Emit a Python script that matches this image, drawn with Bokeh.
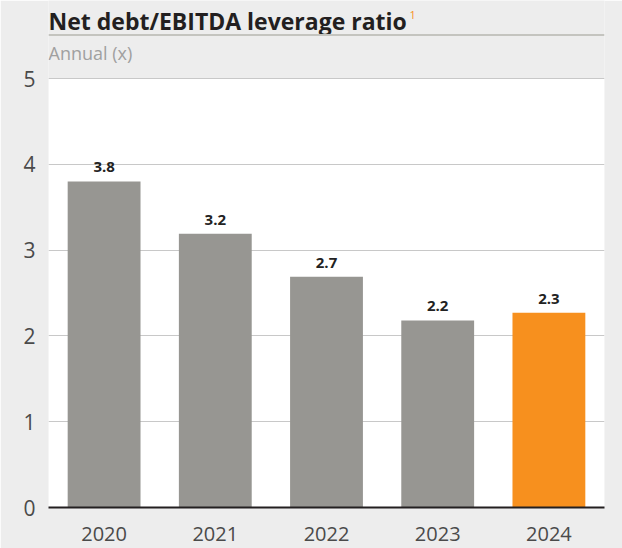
from bokeh.plotting import figure
from bokeh.models import (ColumnDataSource, FactorRange, Range1d, FixedTicker,
                          BoxAnnotation)
from bokeh.core.properties import value
from bokeh.embed import file_html
from bokeh.resources import INLINE

# ---- data ----
years = ["2020", "2021", "2022", "2023", "2024"]
ratios = [3.80, 3.19, 2.69, 2.18, 2.27]
ratio_labels = ["3.8", "3.2", "2.7", "2.2", "2.3"]
bar_colors = ["#979692", "#979692", "#979692", "#979692", "#F7901E"]
y_ticks = [0, 1, 2, 3, 4, 5]

title_text = "Net debt/EBITDA leverage ratio"
subtitle_text = "Annual (x)"

# ---- layout constants (pixels) ----
W, H = 622, 548
FRAME_TOP, FRAME_BOTTOM = 0, 507          # frame spans fig y 0..507
Y5_PX = 78                                 # pixel row of value 5
PX_PER_UNIT = (FRAME_BOTTOM - Y5_PX) / 5.0
Y_END = FRAME_BOTTOM / PX_PER_UNIT

def y_at(px):
    return (FRAME_BOTTOM - px) / PX_PER_UNIT

BG = "#EDEDED"
FONT = "Open Sans"

src = ColumnDataSource(dict(years=years, ratios=ratios,
                            labels=ratio_labels, colors=bar_colors))

p = figure(width=W, height=H, output_backend="svg", toolbar_location=None,
           x_range=FactorRange(*years, range_padding=0),
           y_range=Range1d(0, Y_END),
           min_border_left=48, min_border_right=18,
           min_border_top=FRAME_TOP, min_border_bottom=H - FRAME_BOTTOM)

p.background_fill_color = BG
p.border_fill_color = BG
p.outline_line_color = None

# white plot area from 0 to 5
p.add_layout(BoxAnnotation(bottom=0, top=5, fill_color="white", fill_alpha=1,
                           line_color=None, level="image"))

p.vbar(x="years", top="ratios", width=0.655, source=src,
       fill_color="colors", line_color=None)

p.text(x="years", y="ratios", text="labels", source=src,
       text_font=value(FONT), text_font_size="15px", text_font_style="bold",
       text_color="#222222", text_align="center", text_baseline="alphabetic",
       y_offset=-14)

# title, superscript, rule, subtitle
p.text(x=[0], y=[y_at(20)], text=[title_text], text_font=value(FONT),
       text_font_size="23px", text_font_style="bold", text_color="#231F20",
       text_align="left", text_baseline="alphabetic")
p.text(x=[0], y=[y_at(14)], text=["1"], text_font=value(FONT),
       text_font_size="11px", text_color="#F7901E",
       text_align="left", text_baseline="alphabetic", x_offset=361)
p.line(x=[0, 5], y=[y_at(34.5), y_at(34.5)], line_color="#C4C4BF", line_width=2)
p.text(x=[0], y=[y_at(52)], text=[subtitle_text], text_font=value(FONT),
       text_font_size="18px", text_color="#A0A0A0",
       text_align="left", text_baseline="alphabetic")

# axes
p.yaxis.ticker = FixedTicker(ticks=y_ticks)
p.yaxis.axis_line_color = None
p.yaxis.major_tick_line_color = None
p.yaxis.minor_tick_line_color = None
p.yaxis.major_label_text_font = FONT
p.yaxis.major_label_text_font_size = "21px"
p.yaxis.major_label_text_color = "#4A4A4A"
p.yaxis.major_label_standoff = 7

p.xaxis.axis_line_color = "#231F20"
p.xaxis.axis_line_width = 2
p.xaxis.major_tick_line_color = None
p.xaxis.minor_tick_line_color = None
p.xaxis.major_label_text_font = FONT
p.xaxis.major_label_text_font_size = "20px"
p.xaxis.major_label_text_color = "#4A4A4A"
p.xaxis.major_label_standoff = 13

p.xgrid.grid_line_color = None
p.ygrid.grid_line_color = "#C8C8C8"
p.ygrid.grid_line_width = 1.2

open("out.html", "w").write(file_html(p, INLINE))
